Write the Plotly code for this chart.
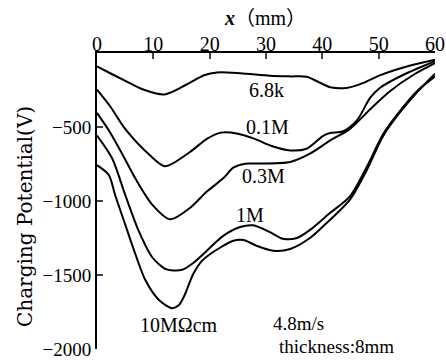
import plotly.graph_objects as go

# ---- data (x in mm, charging potential in V) ----
x_68k = [0, 2, 4.6, 8.2, 12, 15.9, 19, 21.3, 25.4, 30.7, 34.3, 37.2, 41.4, 44.3, 47.3, 50.2, 55, 60]
y_68k = [-91, -130, -180, -247, -280, -213, -150, -131, -136, -153, -158, -160, -231, -236, -202, -151, -91, -45]

x_01M = [0, 2.3, 5, 9.4, 12.1, 16.5, 19.5, 22, 25, 28, 31, 34.3, 37.2, 40.2, 41.4, 43.7, 46.1, 48.5, 50.2, 54.4, 60]
y_01M = [-247, -358, -513, -691, -765, -669, -580, -538, -545, -580, -628, -658, -647, -558, -540, -529, -458, -302, -236, -147, -55]

x_03M = [0, 2.3, 4.6, 6.8, 9.8, 13, 16.5, 19.5, 22.4, 24.2, 26.3, 28, 34.3, 37.8, 41.4, 44.9, 48.5, 52, 56.2, 60]
y_03M = [-405, -535, -691, -847, -1024, -1124, -1047, -936, -847, -775, -748, -747, -736, -680, -591, -513, -380, -258, -147, -69]

x_1M = [0, 2.7, 5, 7.4, 9.8, 12.1, 13.5, 15.1, 16.9, 19.5, 22.4, 25.4, 27.7, 30.7, 33, 35.5, 38, 41.4, 44.9, 47.9, 50.8, 53.8, 56.8, 60]
y_1M = [-558, -713, -958, -1202, -1380, -1458, -1469, -1465, -1424, -1336, -1236, -1176, -1164, -1210, -1255, -1250, -1190, -1080, -969, -769, -547, -391, -258, -158]

x_10M = [0, 2.1, 3.2, 5, 6.8, 8.6, 11, 13.3, 14.5, 15.5, 17.1, 18.5, 20.1, 24.2, 26, 28.3, 31.3, 34.3, 37.8, 40.2, 44.9, 47.9, 50.8, 53.8, 56.8, 60]
y_10M = [-758, -824, -958, -1158, -1358, -1536, -1669, -1724, -1705, -1640, -1491, -1410, -1358, -1269, -1264, -1302, -1336, -1324, -1250, -1169, -991, -790, -560, -400, -265, -140]

x_ticks = [0, 10, 20, 30, 40, 50, 60]
y_ticks = [-500, -1000, -1500, -2000]
y_ticktext = ["\u2212500", "\u22121000", "\u22121500", "\u22122000"]

series = [
    ("6.8k", x_68k, y_68k),
    ("0.1M", x_01M, y_01M),
    ("0.3M", x_03M, y_03M),
    ("1M", x_1M, y_1M),
    ("10M\u03a9cm", x_10M, y_10M),
]

# text labels: (text, x, y, anchor, size) in data coords
labels = [
    ("6.8k", 30.0, -247, "center", 20),
    ("0.1M", 30.3, -500, "center", 20),
    ("0.3M", 29.6, -833, "center", 20),
    ("1M", 27.2, -1093, "center", 20),
    ("10M\u03a9cm", 14.6, -1835, "center", 20),
    ("4.8m/s", 31.1, -1825, "left", 19),
    ("thickness:8mm", 32.1, -1985, "left", 19),
]

FONT = "Liberation Serif"
FS = 20

fig = go.Figure()
for name, xs, ys in series:
    fig.add_trace(go.Scatter(
        x=xs, y=ys, mode="lines", name=name,
        line=dict(color="black", width=2, shape="spline", smoothing=0.8),
        showlegend=False,
    ))

for txt, lx, ly, anc, sz in labels:
    fig.add_annotation(x=lx, y=ly, xref="x", yref="y", text=txt, showarrow=False,
                       xanchor=anc, yanchor="middle", borderpad=0,
                       font=dict(family=FONT, size=sz, color="black"))

fig.add_annotation(x=(222 - 97) / 338, y=1 + (53 - 18) / 296, xref="paper", yref="paper",
                   text="<b><i>x</i></b>\uff08mm\uff09", showarrow=False,
                   xanchor="left", yanchor="middle",
                   font=dict(family="Liberation Serif, Noto Sans CJK SC", size=FS, color="black"))

fig.add_annotation(x=-(97 - 25) / 338, y=(349 - 217) / 296, xref="paper", yref="paper",
                   text="Charging Potential(V)", showarrow=False, textangle=-90,
                   xanchor="center", yanchor="middle",
                   font=dict(family="DejaVu Serif", size=20, color="black"))

fig.update_layout(
    width=446, height=361,
    margin=dict(l=97, r=11, t=53, b=12, autoexpand=False),
    paper_bgcolor="white", plot_bgcolor="white",
    font=dict(family=FONT, size=FS, color="black"),
    xaxis=dict(side="top", range=[0, 60], tickvals=x_ticks, ticks="inside", ticklen=6,
               tickwidth=1.5, showline=True, linewidth=2, linecolor="black",
               showgrid=False, zeroline=False, ticklabelstandoff=-8, automargin=False,
               ticklabeloverflow="allow", tickfont=dict(family=FONT, size=FS)),
    yaxis=dict(range=[-2000, 0], tickvals=y_ticks, ticktext=y_ticktext, ticks="inside",
               ticklen=6, tickwidth=1.5, showline=True, linewidth=2, linecolor="black",
               showgrid=False, zeroline=False, ticklabeloverflow="allow", automargin=False,
               tickfont=dict(family=FONT, size=19)),
)

fig.write_html("out.html")
